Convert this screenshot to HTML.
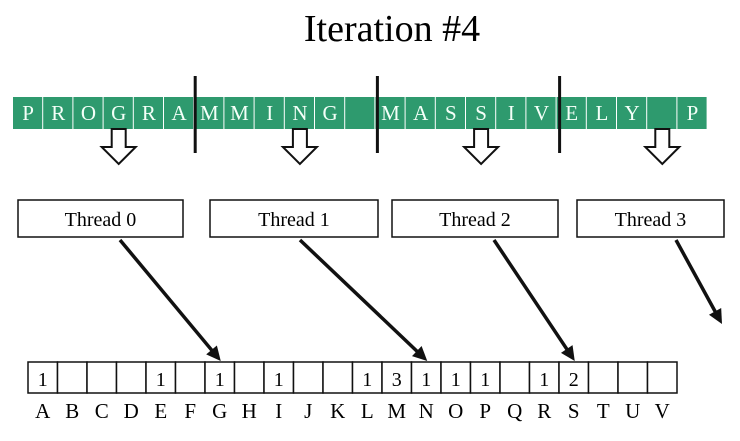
<!DOCTYPE html>
<html><head><meta charset="utf-8"><style>
body{margin:0;background:#fff;}
svg{display:block;font-family:"Liberation Serif",serif;}
</style></head><body>
<svg width="740" height="441" viewBox="0 0 740 441">
<text x="392" y="41" font-size="38" text-anchor="middle">Iteration #4</text>
<g id="input"></g>
<g id="threads"></g>
<g id="hist"></g>
</svg>
<script>
const inputChars = ["P","R","O","G","R","A","M","M","I","N","G"," ","M","A","S","S","I","V","E","L","Y"," ","P"];
const sectionSize = 6;
const iterOffset = 3;
const threadLabels = ["Thread 0","Thread 1","Thread 2","Thread 3"];
const binLabels = ["A","B","C","D","E","F","G","H","I","J","K","L","M","N","O","P","Q","R","S","T","U","V"];
const binCounts = [1,0,0,0,1,0,1,0,1,0,0,1,3,1,1,1,0,1,2,0,0,0];
const threadTargets = [6,13,18,null];

const NS="http://www.w3.org/2000/svg";
function mk(tag,attrs,parent){const e=document.createElementNS(NS,tag);for(const k in attrs)e.setAttribute(k,attrs[k]);parent.appendChild(e);return e;}
const inp=document.getElementById('input'), th=document.getElementById('threads'), hg=document.getElementById('hist');
const x0=13, cw=30.2, y0=97, ch=32;
inputChars.forEach((c,i)=>{
  const r=mk('rect',{x:x0+i*cw,y:y0,width:cw-1,height:ch,fill:'#2e9a6e'},inp);
  
  
  const t=mk('text',{x:x0+i*cw+cw/2,y:y0+23,'font-size':21,fill:'#f4fff8','text-anchor':'middle'},inp);
  t.textContent=c;
  
  
});
for(let s=1;s<4;s++){
  const x=x0+s*sectionSize*cw+(s*1);
  const l=mk('line',{x1:x,x2:x,y1:76,y2:153,stroke:'#111','stroke-width':3},inp);
  
  
}
const bx0=28, bw=29.5, by=362, bh=31;
threadLabels.forEach((lab,k)=>{
  const ci=k*sectionSize+iterOffset;
  const cx=x0+ci*cw+cw/2;
  const a=mk('path',{d:`M${cx-7},${129}h14v18h10l-17,17l-17,-17h10z`,fill:'#fff',stroke:'#111','stroke-width':2},th);
  
  
  const bxs=[18,210,392,577], bws=[165,168,166,147];
  const r=mk('rect',{x:bxs[k],y:200,width:bws[k],height:37,fill:'#fff',stroke:'#111','stroke-width':1.5},th);
  
  
  const t=mk('text',{x:bxs[k]+bws[k]/2,y:226,'font-size':20,'text-anchor':'middle'},th);
  t.textContent=lab;
  
  
  const sx=[120,300,494,676][k];
  const tgt=threadTargets[k];
  const ex=tgt===null?722:bx0+tgt*bw+bw/2+1, ey=tgt===null?324:by-1;
  const ang=Math.atan2(ey-240,ex-sx);
  const L=mk('line',{x1:sx,y1:240,x2:ex-10*Math.cos(ang),y2:ey-10*Math.sin(ang),stroke:'#111','stroke-width':3.5},th);
  
  
  const p1=[ex-16*Math.cos(ang-0.45),ey-16*Math.sin(ang-0.45)],p2=[ex-16*Math.cos(ang+0.45),ey-16*Math.sin(ang+0.45)];
  const H=mk('path',{d:`M${ex},${ey}L${p1}L${p2}Z`,fill:'#111'},th);
  
  
});
binLabels.forEach((b,i)=>{
  const x=bx0+i*bw;
  const r=mk('rect',{x:x,y:by,width:bw,height:bh,fill:'#fff',stroke:'#111','stroke-width':1.5},hg);
  
  
  if(binCounts[i]){
    const t=mk('text',{x:x+bw/2,y:by+24,'font-size':20,'text-anchor':'middle'},hg);
    t.textContent=binCounts[i];
    
    
  }
  const lt=mk('text',{x:x+bw/2,y:418,'font-size':21,'text-anchor':'middle'},hg);
  lt.textContent=b;
  
  
});
</script>
</body></html>
